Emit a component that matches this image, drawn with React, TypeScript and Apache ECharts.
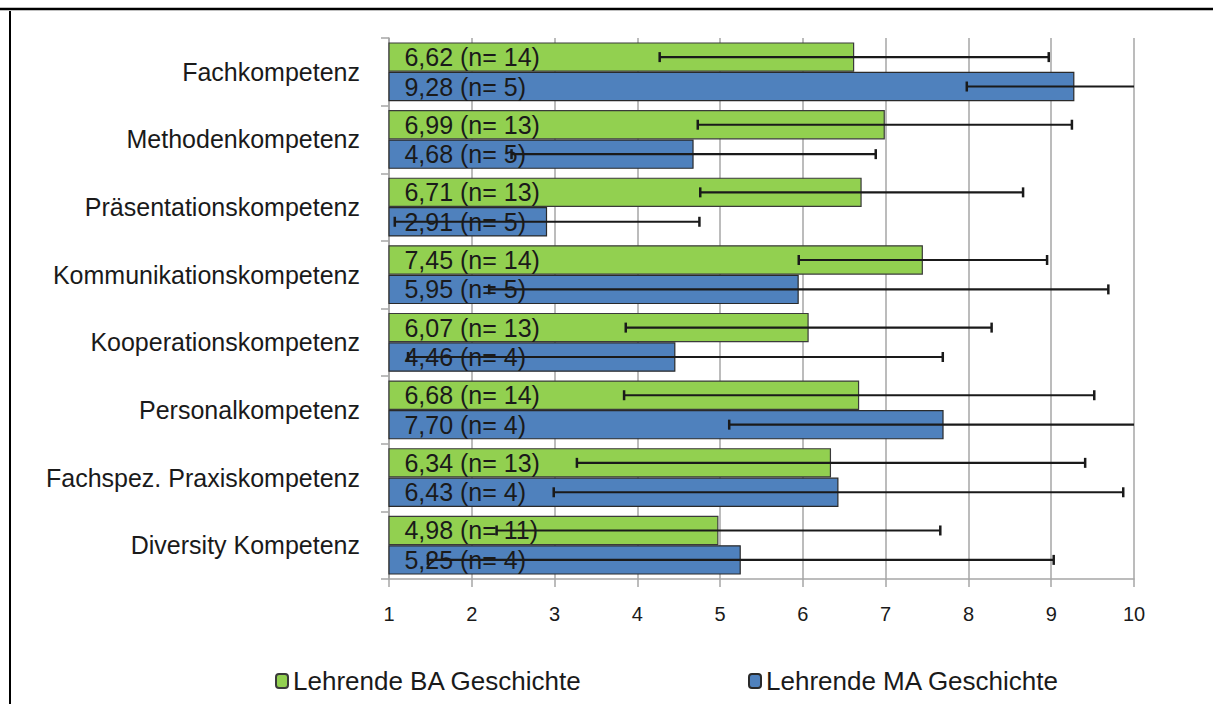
import React, { useEffect, useRef } from "react";
import * as echarts from "echarts";

const categories = [
  "Fachkompetenz",
  "Methodenkompetenz",
  "Präsentationskompetenz",
  "Kommunikationskompetenz",
  "Kooperationskompetenz",
  "Personalkompetenz",
  "Fachspez. Praxiskompetenz",
  "Diversity Kompetenz",
];
const seriesNames = ["Lehrende BA Geschichte", "Lehrende MA Geschichte"];
const baMeans = [6.62, 6.99, 6.71, 7.45, 6.07, 6.68, 6.34, 4.98];
const baN = [14, 13, 13, 14, 13, 14, 13, 11];
const baSd = [2.35, 2.26, 1.95, 1.5, 2.21, 2.84, 3.07, 2.68];
const maMeans = [9.28, 4.68, 2.91, 5.95, 4.46, 7.7, 6.43, 5.25];
const maN = [5, 5, 5, 5, 4, 4, 4, 4];
const maSd = [1.3, 2.2, 1.84, 3.74, 3.23, 2.59, 3.44, 3.78];
const xTicks = [1, 10];

const FONT = "'Liberation Sans', Arial, sans-serif";
const GAP = 0.13;

function fmt(v: number, n: number) {
  return v.toFixed(2).replace(".", ",") + " (n= " + n + ")";
}

function errorSeries(means: number[], sds: number[], sign: number) {
  return {
    type: "custom",
    z: 10,
    silent: true,
    data: means.map((m, i) => [m, i, sds[i]]),
    encode: { x: 0, y: 1 },
    renderItem: (params: any, api: any) => {
      const mean = api.value(0);
      const cat = api.value(1);
      const sd = api.value(2);
      const band = api.size([0, 1])[1];
      const bw = (band * (1 - GAP)) / 2;
      const c = api.coord([mean, cat]);
      const y = c[1] + (sign * bw) / 2;
      const lo = Math.max(xTicks[0], mean - sd);
      const hi = Math.min(xTicks[1], mean + sd);
      const pLo = api.coord([lo, cat])[0];
      const pHi = api.coord([hi, cat])[0];
      const style = { stroke: "#1a1a1a", lineWidth: 2.2 };
      const children: any[] = [
        { type: "line", shape: { x1: pLo, y1: y, x2: pHi, y2: y }, style },
      ];
      if (mean - sd >= xTicks[0]) {
        children.push({ type: "line", shape: { x1: pLo, y1: y - 5, x2: pLo, y2: y + 5 }, style: { stroke: "#1a1a1a", lineWidth: 2.5 } });
      }
      if (mean + sd <= xTicks[1]) {
        children.push({ type: "line", shape: { x1: pHi, y1: y - 5, x2: pHi, y2: y + 5 }, style: { stroke: "#1a1a1a", lineWidth: 2.5 } });
      }
      return { type: "group", children };
    },
  };
}

export default function App() {
  const ref = useRef<HTMLDivElement>(null);
  useEffect(() => {
    if (!ref.current) return;
    const chart = echarts.init(ref.current, undefined, { renderer: "svg" });
    const barLabel = (ns: number[]) => ({
      show: true,
      position: [16, "50%"],
      align: "left",
      verticalAlign: "middle",
      fontFamily: FONT,
      fontSize: 25,
      lineHeight: 26,
      color: "#1a1a1a",
      formatter: (p: any) => fmt(p.value, ns[p.dataIndex]),
    });
    const legendText = { fontFamily: FONT, fontSize: 26, color: "#1a1a1a" };
    chart.setOption({
      animation: false,
      backgroundColor: "#ffffff",
      grid: { left: 389, right: 79, top: 38, bottom: 125, containLabel: false },
      xAxis: {
        type: "value",
        min: xTicks[0],
        max: xTicks[1],
        interval: 1,
        axisLine: { show: true, lineStyle: { color: "#a6a6a6", width: 1.5 } },
        axisTick: { show: true, length: 8, lineStyle: { color: "#a6a6a6", width: 1.5 } },
        splitLine: { show: true, lineStyle: { color: "#a6a6a6", width: 1.5 } },
        axisLabel: { margin: 25, fontFamily: FONT, fontSize: 20, color: "#1a1a1a" },
      },
      yAxis: {
        type: "category",
        data: categories,
        inverse: true,
        axisLine: { show: true, lineStyle: { color: "#a6a6a6", width: 1.5 } },
        axisTick: { show: true, length: 8, lineStyle: { color: "#a6a6a6", width: 1.5 } },
        axisLabel: { margin: 29, fontFamily: FONT, fontSize: 25, color: "#1a1a1a" },
      },
      legend: [
        {
          data: [seriesNames[0]],
          left: 270,
          top: 663,
          itemWidth: 12,
          itemHeight: 14,
          itemGap: 4,
          textStyle: legendText,
        },
        {
          data: [seriesNames[1]],
          left: 743,
          top: 663,
          itemWidth: 12,
          itemHeight: 14,
          textStyle: legendText,
        },
      ],
      graphic: [
        { type: "line", shape: { x1: 0, y1: 9, x2: 1213, y2: 9 }, style: { stroke: "#000", lineWidth: 2.5 } },
        { type: "line", shape: { x1: 10, y1: 11, x2: 10, y2: 704 }, style: { stroke: "#000", lineWidth: 2 } },
      ],
      series: [
        {
          name: seriesNames[0],
          type: "bar",
          data: baMeans,
          barGap: "0%",
          barCategoryGap: GAP * 100 + "%",
          itemStyle: { color: "#92D050", borderColor: "#3a3a3a", borderWidth: 1.2 },
          label: barLabel(baN),
        },
        {
          name: seriesNames[1],
          type: "bar",
          data: maMeans,
          barGap: "0%",
          barCategoryGap: GAP * 100 + "%",
          itemStyle: { color: "#4F81BD", borderColor: "#2a2a2a", borderWidth: 1.2 },
          label: barLabel(maN),
        },
        errorSeries(baMeans, baSd, -1),
        errorSeries(maMeans, maSd, 1),
      ],
    });
    return () => chart.dispose();
  }, []);
  return (
    <div
      ref={ref}
      style={{ position: "fixed", left: 0, top: 0, width: 1213, height: 704 }}
    />
  );
}
